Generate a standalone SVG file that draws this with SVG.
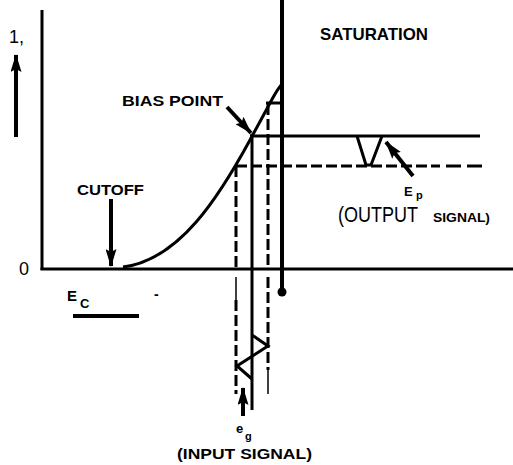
<svg xmlns="http://www.w3.org/2000/svg" width="513" height="465" viewBox="0 0 513 465">
<style>
.ln{stroke:#000;stroke-width:3;fill:none;}
.thk{stroke:#000;stroke-width:4;fill:none;}
.dash{stroke:#000;stroke-width:3;fill:none;stroke-dasharray:11 4;}
.thin{stroke:#000;stroke-width:1.5;fill:none;}
.b{font-family:"Liberation Sans",Arial,sans-serif;font-weight:bold;fill:#000;}
.r{font-family:"Liberation Sans",Arial,sans-serif;fill:#000;}
</style>
<defs>
<marker id="ah" viewBox="0 0 18 11" refX="17" refY="5.5" markerWidth="18" markerHeight="11" markerUnits="userSpaceOnUse" orient="auto">
<path d="M0,0 L18,5.5 L0,11 L3,5.5 Z" fill="#000"/>
</marker>
</defs>
<rect width="513" height="465" fill="#fff"/>

<g id="axes">
<line class="ln" x1="42" y1="10" x2="42" y2="270"/>
<line class="ln" x1="40.5" y1="269" x2="513" y2="269"/>
<line class="thk" x1="282" y1="0" x2="282" y2="291"/>
<circle cx="282" cy="292" r="4.5" fill="#000"/>
</g>

<g id="curve">
<path class="ln" d="M123 267 C180 260 220 195 250 140 S272 98 281 85"/>
</g>

<g id="projection-lines">
<line class="ln" x1="250" y1="136" x2="480" y2="136"/>
<line class="dash" x1="236" y1="166" x2="440" y2="166"/>
<line class="ln" x1="446" y1="166" x2="461" y2="166"/>
<line class="ln" x1="467" y1="166" x2="482" y2="166"/>
<line class="ln" x1="266" y1="103" x2="282" y2="103"/>
<line class="dash" x1="236" y1="166" x2="236" y2="268"/>
<line class="thin" x1="236" y1="277" x2="236" y2="300"/>
<line class="dash" x1="236" y1="300" x2="236" y2="394"/>
<line class="ln" x1="252" y1="134" x2="252" y2="410"/>
<line class="dash" x1="268" y1="104" x2="268" y2="268"/>
<line class="dash" x1="268" y1="277" x2="268" y2="370"/>
<line class="thin" x1="268" y1="370" x2="268" y2="394"/>
</g>

<g id="input-wave">
<path class="ln" d="M252 335 L268 346 L237 366 L252 379"/>
</g>

<g id="output-wave">
<path class="ln" d="M357 136 L366 165 L371 165 L382 136"/>
</g>

<g id="connectors">
<line class="thk" x1="16" y1="137" x2="16" y2="55" marker-end="url(#ah)"/>
<line class="thk" x1="111" y1="199" x2="111" y2="266" marker-end="url(#ah)"/>
<line class="thk" x1="227" y1="107" x2="251" y2="133" marker-end="url(#ah)"/>
<line class="thk" x1="413" y1="176" x2="386" y2="142" marker-end="url(#ah)"/>
<line class="thk" x1="243" y1="416" x2="243" y2="388" marker-end="url(#ah)"/>
</g>

<g id="label-y">
<text class="r" x="9" y="43" font-size="18">1,</text>
</g>
<g id="label-zero">
<text class="r" x="19" y="275" font-size="18">0</text>
</g>
<g id="label-saturation">
<text class="b" x="320" y="40" font-size="17" textLength="108" lengthAdjust="spacingAndGlyphs">SATURATION</text>
</g>
<g id="label-bias">
<text class="b" x="122" y="106" font-size="14" textLength="101" lengthAdjust="spacingAndGlyphs">BIAS POINT</text>
</g>
<g id="label-cutoff">
<text class="b" x="77" y="195" font-size="15" textLength="67" lengthAdjust="spacingAndGlyphs">CUTOFF</text>
</g>
<g id="label-ec">
<text class="b" x="67" y="301" font-size="15">E</text>
<text class="b" x="80" y="308" font-size="13">C</text>
<line x1="73" y1="316" x2="139" y2="316" stroke="#000" stroke-width="4"/>
<text class="b" x="154" y="299" font-size="14">-</text>
</g>
<g id="label-ep">
<text class="b" x="404" y="196" font-size="13">E</text>
<text class="b" x="416" y="199" font-size="11">p</text>
<text class="r" x="338" y="222" font-size="22" textLength="80" lengthAdjust="spacingAndGlyphs">(OUTPUT</text>
<text class="b" x="433" y="222" font-size="12" textLength="57" lengthAdjust="spacingAndGlyphs">SIGNAL)</text>
</g>
<g id="label-eg">
<text class="b" x="236" y="433" font-size="13">e</text>
<text class="b" x="245" y="440" font-size="11">g</text>
<text class="b" x="177" y="459" font-size="14" textLength="135" lengthAdjust="spacingAndGlyphs">(INPUT SIGNAL)</text>
</g>
</svg>
